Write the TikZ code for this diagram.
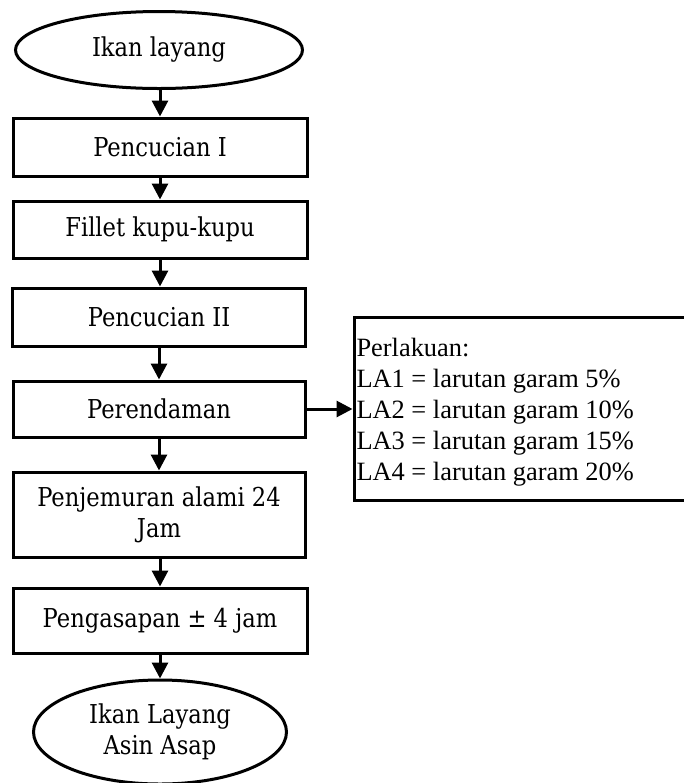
\documentclass[tikz,border=0pt]{standalone}
\usepackage{fontspec}
\setmainfont[FakeStretch=0.87]{DejaVu Serif}
\newfontfamily\timesfont{Liberation Serif}
\usetikzlibrary{shapes.geometric, arrows.meta}

\begin{document}
\begin{tikzpicture}[x=0.5pt, y=-0.5pt, line width=1.5pt,
	>={Triangle[width=8pt, length=8pt]},
	stepbox/.style={draw, rectangle, inner sep=0pt, align=center, font=\fontsize{13}{15.5}\selectfont},
	terminal/.style={draw, ellipse, inner sep=0pt, align=center, font=\fontsize{13}{15.5}\selectfont}]
	
	%Frame
	\useasboundingbox (0,0) rectangle (684,783);
	
	%Nodes
	\node[terminal, minimum width=143.5pt, minimum height=38.5pt] (ikan) at (159,50) {Ikan layang};
	\node[stepbox, minimum width=147pt, minimum height=29pt] (cuci1) at (160,147) {Pencucian I};
	\node[stepbox, minimum width=147pt, minimum height=28.5pt] (fillet) at (160,229.5) {Fillet kupu-kupu};
	\node[stepbox, minimum width=146.5pt, minimum height=29pt] (cuci2) at (159,317) {Pencucian II};
	\node[stepbox, minimum width=146pt, minimum height=28pt] (rendam) at (159,409) {Perendaman};
	\node[stepbox, minimum width=146pt, minimum height=42.5pt] (jemur) at (159,514.5) {Penjemuran alami 24\\Jam};
	\node[stepbox, minimum width=147pt, minimum height=32.5pt] (asap) at (160,620.5) {Pengasapan ± 4 jam};
	\node[terminal, minimum width=126.5pt, minimum height=52pt] (hasil) at (160,732) {Ikan Layang\\Asin Asap};
	
	%Perlakuan
	\node[draw, rectangle, inner sep=0pt, minimum width=173pt, minimum height=91.5pt] (note) at (527,408.5) {};
	\node[anchor=base west, align=left, inner sep=0pt, font=\timesfont\fontsize{13.2}{15.5}\selectfont] (notetext) at (355,480)
		{Perlakuan:\\LA1 = larutan garam 5\%\\LA2 = larutan garam 10\%\\LA3 = larutan garam 15\%\\LA4 = larutan garam 20\%};
	
	%Arrows
	\draw[->] (ikan.south -| cuci1) -- (cuci1.north);
	\draw[->] (cuci1.south) -- (fillet.north);
	\draw[->] (fillet.south) -- (fillet.south |- cuci2.north);
	\draw[->] (cuci2.south) -- (rendam.north);
	\draw[->] (rendam.south) -- (jemur.north);
	\draw[->] (jemur.south -| asap) -- (asap.north);
	\draw[->] (asap.south) -- (hasil.north);
	\draw[->] (rendam.east) -- (rendam.east -| note.west);
	
\end{tikzpicture}
\end{document}
